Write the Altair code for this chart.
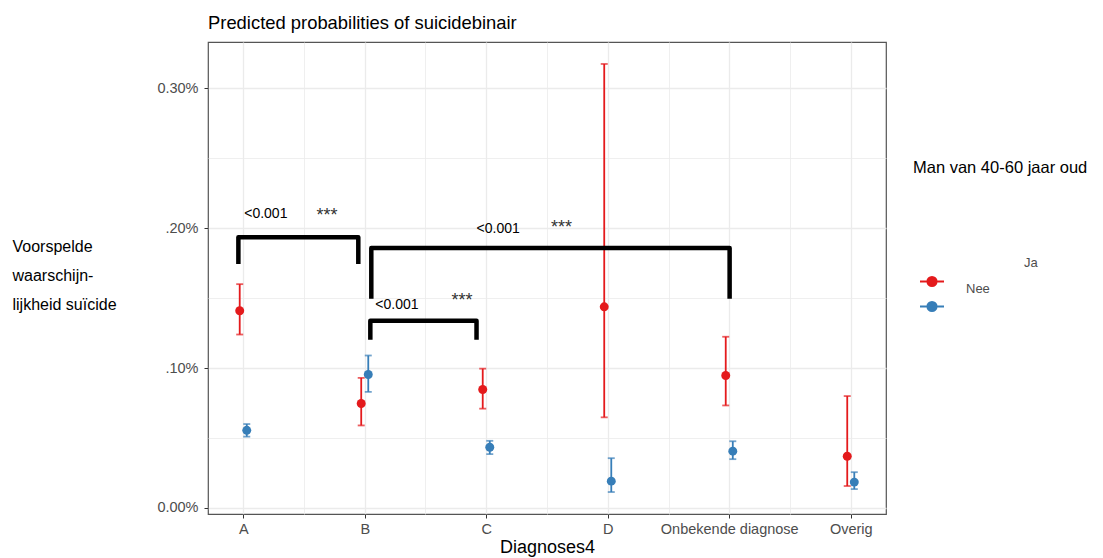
import altair as alt
import pandas as pd

# ---------------- data ----------------
categories = ["A", "B", "C", "D", "Onbekende diagnose", "Overig"]
groups = ["Ja", "Nee"]

ja_est = [0.141, 0.0747, 0.0847, 0.1438, 0.0947, 0.037]
ja_low = [0.124, 0.059, 0.071, 0.0648, 0.0733, 0.0157]
ja_high = [0.160, 0.093, 0.0996, 0.3174, 0.1224, 0.080]

nee_est = [0.0555, 0.0954, 0.0434, 0.0192, 0.0406, 0.0185]
nee_low = [0.051, 0.083, 0.0385, 0.0114, 0.0349, 0.0135]
nee_high = [0.060, 0.109, 0.048, 0.0356, 0.0477, 0.0256]

ytick_values = [0, 0.1, 0.2, 0.3]
ytick_labels = ["0.00%", ".10%", ".20%", "0.30%"]

# significance brackets (category index units / percent units)
bracket_x1 = [-0.04, 1.054, 1.046]
bracket_x2 = [0.947, 4.003, 1.92]
bracket_top = [0.1936, 0.1858, 0.1338]
bracket_bottom = [0.1744, 0.1495, 0.1203]

p_labels = ["<0.001", "<0.001", "<0.001"]
p_x = [0.008, 1.92, 1.087]
p_y = [0.21, 0.1993, 0.1452]
star_labels = ["***", "***", "***"]
star_x = [0.69, 2.62, 1.80]
star_y = [0.2115, 0.2030, 0.1510]

title_text = "Predicted probabilities of suicidebinair"
x_title = "Diagnoses4"
y_title = ["Voorspelde", "waarschijn-", "lijkheid suïcide"]
legend_title = "Man van 40-60 jaar oud"

# ---------------- build tables ----------------
DODGE = 0.029
rows = []
for gi, (g, est, lo, hi) in enumerate([("Ja", ja_est, ja_low, ja_high),
                                      ("Nee", nee_est, nee_low, nee_high)]):
    for i, c in enumerate(categories):
        rows.append({"cat": c, "group": g,
                     "xpos": i + (-DODGE if gi == 0 else DODGE),
                     "est": est[i], "low": lo[i], "high": hi[i]})
df = pd.DataFrame(rows)

brows = []
for b in range(len(bracket_x1)):
    pts = [(bracket_x1[b], bracket_bottom[b]), (bracket_x1[b], bracket_top[b]),
           (bracket_x2[b], bracket_top[b]), (bracket_x2[b], bracket_bottom[b])]
    for k, (bx, by) in enumerate(pts):
        brows.append({"b": b, "k": k, "bx": bx, "by": by})
bdf = pd.DataFrame(brows)

pdf = pd.DataFrame({"tx": p_x, "ty": p_y, "txt": p_labels})
sdf = pd.DataFrame({"tx": star_x, "ty": star_y, "txt": star_labels})

FONT = "Liberation Sans"
RED = "#E41A1C"
BLUE = "#377EB8"

# ---------------- axes ----------------
cat_js = "[" + ",".join("'" + c + "'" for c in categories) + "]"
x_vals = [i * 0.5 for i in range(0, 11)]
x_axis = alt.Axis(
    values=x_vals,
    labelExpr=f"datum.value % 1 == 0 ? {cat_js}[datum.value] : ''",
    tickOpacity={"condition": {"test": "datum.value % 1 != 0", "value": 0}, "value": 1},
    gridWidth={"condition": {"test": "datum.value % 1 != 0", "value": 0.8}, "value": 1.3},
    labelPadding=4,
    title=x_title,
    titleFontSize=18, titleColor="black", titleFontWeight="normal", titleFont=FONT,
    titleBaseline="alphabetic", titleY=38,
)

y_expr = "''"
for v, lab in zip(ytick_values, ytick_labels):
    y_expr = f"round(datum.value*100) == {round(v*100)} ? '{lab}' : ({y_expr})"
y_vals = [round(i * 0.05, 4) for i in range(0, 7)]
minor_test = "abs(datum.value*10 - round(datum.value*10)) > 0.001"
y_axis = alt.Axis(
    values=y_vals,
    labelExpr=y_expr,
    tickOpacity={"condition": {"test": minor_test, "value": 0}, "value": 1},
    gridWidth={"condition": {"test": minor_test, "value": 0.8}, "value": 1.3},
    labelPadding=6,
    title=y_title,
    titleAngle=0, titleAlign="left", titleBaseline="top",
    titleX=-196, titleY=196, titleLineHeight=29,
    titleFontSize=16, titleColor="black", titleFontWeight="normal", titleFont=FONT,
)

xscale = alt.Scale(domain=[-0.29, 5.29], nice=False, zero=False)
yscale = alt.Scale(domain=[-0.0043, 0.3331], nice=False, zero=False)
cscale = alt.Scale(domain=groups, range=[RED, BLUE])

legend_symbol = "M-1,0L1,0M0.38,0A0.38,0.38,0,1,1,-0.38,0A0.38,0.38,0,1,1,0.38,0Z"
leg = alt.Legend(
    title=legend_title, orient="none", legendX=705, legendY=118,
    titleFontSize=16.5, titleColor="black", titleFontWeight="normal", titleFont=FONT,
    titlePadding=92, symbolType=legend_symbol, symbolSize=576, symbolStrokeWidth=2,
    symbolOffset=6, labelOpacity=0, rowPadding=3,
)

X = alt.X("xpos:Q", scale=xscale, axis=x_axis)

points = alt.Chart(df).mark_point(size=80, opacity=1, filled=True).encode(
    x=X, y=alt.Y("est:Q", scale=yscale, axis=y_axis),
    color=alt.Color("group:N", scale=cscale, legend=leg))
rules = alt.Chart(df).mark_rule(strokeWidth=1.8).encode(
    x=X, y=alt.Y("low:Q", scale=yscale, axis=y_axis), y2="high:Q",
    color=alt.Color("group:N", scale=cscale, legend=leg))
cap_lo = alt.Chart(df).mark_tick(orient="horizontal", size=7, thickness=1.8).encode(
    x=X, y=alt.Y("low:Q", scale=yscale, axis=y_axis),
    color=alt.Color("group:N", scale=cscale, legend=leg))
cap_hi = alt.Chart(df).mark_tick(orient="horizontal", size=7, thickness=1.8).encode(
    x=X, y=alt.Y("high:Q", scale=yscale, axis=y_axis),
    color=alt.Color("group:N", scale=cscale, legend=leg))

brackets = alt.Chart(bdf).mark_line(color="black", strokeWidth=4.5, strokeJoin="round").encode(
    x=alt.X("bx:Q", scale=xscale, axis=x_axis),
    y=alt.Y("by:Q", scale=yscale, axis=y_axis),
    detail="b:N", order="k:Q")

ptext = alt.Chart(pdf).mark_text(align="left", baseline="middle", fontSize=14,
                                 font=FONT, color="black").encode(
    x=alt.X("tx:Q", scale=xscale, axis=x_axis),
    y=alt.Y("ty:Q", scale=yscale, axis=y_axis), text="txt:N")
stext = alt.Chart(sdf).mark_text(align="center", baseline="middle", fontSize=18,
                                 font=FONT, color="#333333", dy=4).encode(
    x=alt.X("tx:Q", scale=xscale, axis=x_axis),
    y=alt.Y("ty:Q", scale=yscale, axis=y_axis), text="txt:N")

lab_ja = alt.Chart(pd.DataFrame({"t": [groups[0]]})).mark_text(
    align="left", baseline="middle", fontSize=13, font=FONT, color="#4D4D4D").encode(
    x=alt.value(816), y=alt.value(221), text="t:N")
lab_nee = alt.Chart(pd.DataFrame({"t": [groups[1]]})).mark_text(
    align="left", baseline="middle", fontSize=13, font=FONT, color="#4D4D4D").encode(
    x=alt.value(758), y=alt.value(247), text="t:N")

chart = alt.layer(points, rules, cap_lo, cap_hi, brackets, ptext, stext, lab_ja, lab_nee).properties(
    width=678, height=472,
    background="white",
    title=alt.TitleParams(title_text, anchor="start", frame="group", fontSize=18.4,
                          font=FONT, color="black", fontWeight="normal", offset=10),
    autosize=alt.AutoSizeParams(type="none"),
    padding={"left": 200, "top": 34, "right": 209, "bottom": 44},
).configure_view(stroke="#555555", strokeWidth=1.2).configure_axis(
    domain=False, tickColor="#333333", tickSize=4, tickWidth=1,
    labelColor="#4D4D4D", labelFontSize=14.5, labelFont=FONT,
    gridColor="#EBEBEB",
)

chart.save("out.html", embed_options={"renderer": "svg", "actions": False})
